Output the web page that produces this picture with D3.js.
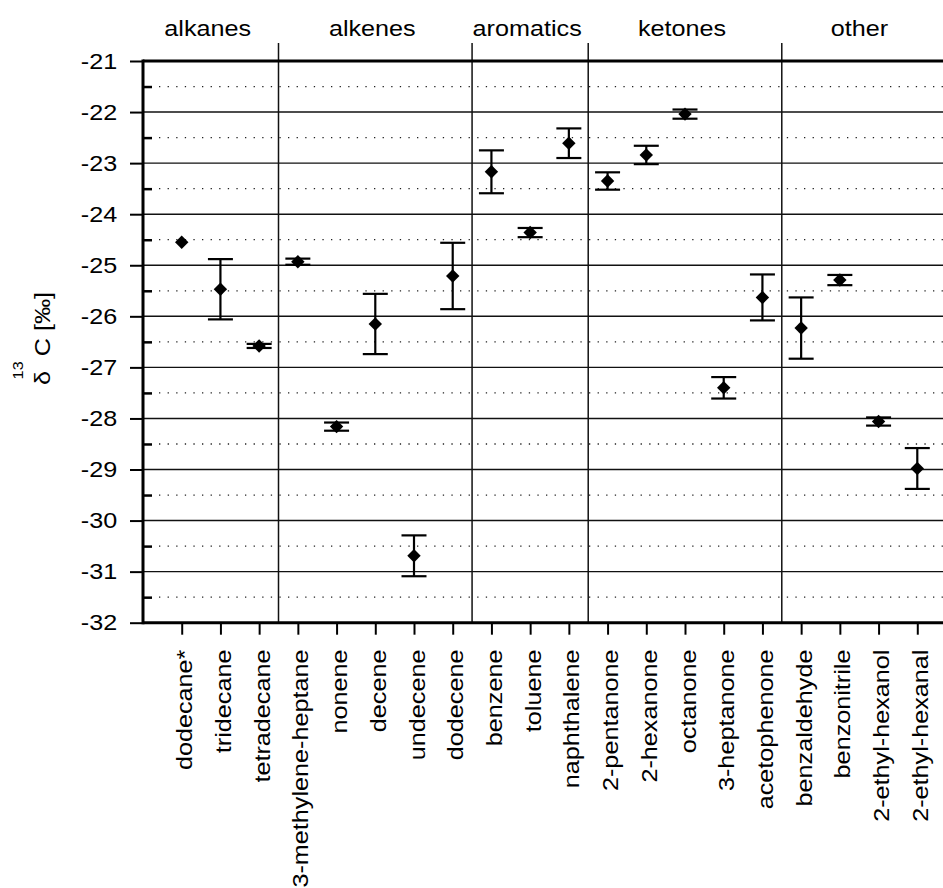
<!DOCTYPE html>
<html>
<head>
<meta charset="utf-8">
<script src="https://cdn.jsdelivr.net/npm/d3@7"></script>
<style>
  body { margin: 0; background: #fff; }
  svg { display: block; font-family: "Liberation Sans", Arial, sans-serif; }
</style>
</head>
<body>
<div id="chart"></div>
<script>
// ---- data ----
const compounds = ['dodecane*', 'tridecane', 'tetradecane', '3-methylene-heptane', 'nonene',
  'decene', 'undecene', 'dodecene', 'benzene', 'toluene', 'naphthalene', '2-pentanone',
  '2-hexanone', 'octanone', '3-heptanone', 'acetophenone', 'benzaldehyde', 'benzonitrile',
  '2-ethyl-hexanol', '2-ethyl-hexanal'];
const groupNames = ['alkanes', 'alkenes', 'aromatics', 'ketones', 'other'];
const groupSizes = [3, 5, 3, 5, 4];
const delta13C = [-24.55, -25.47, -26.58, -24.93, -28.16, -26.15, -30.69, -25.21, -23.17, -24.36,
  -22.61, -23.35, -22.84, -22.04, -27.40, -25.63, -26.23, -25.29, -28.06, -28.98];
const errors = [0, 0.59, 0.04, 0.06, 0.08, 0.59, 0.40, 0.65, 0.42, 0.09,
  0.29, 0.17, 0.18, 0.09, 0.21, 0.45, 0.60, 0.10, 0.08, 0.40];
const yMajor = [-21, -22, -23, -24, -25, -26, -27, -28, -29, -30, -31, -32];
const yMinor = [-21.5, -22.5, -23.5, -24.5, -25.5, -26.5, -27.5, -28.5, -29.5, -30.5, -31.5];

const width = 943;
const height = 888;
const plotLeft = 143, plotRight = 956, plotTop = 61, plotBottom = 622.7;
const stretch = 'scale(1.12,1)';

const points = compounds.map((name, i) => ({ name, value: delta13C[i], err: errors[i] }));

const svg = d3.select('#chart').append('svg')
  .attr('width', width)
  .attr('height', height);

const x = d3.scalePoint().domain(compounds).range([plotLeft, plotRight]).padding(1);
const y = d3.scaleLinear().domain([-32, -21]).range([plotBottom, plotTop]);
const step = x.step();

// group boundaries / spans
let start = 0;
const groups = groupNames.map((g, i) => {
  const first = compounds[start];
  const last = compounds[start + groupSizes[i] - 1];
  start += groupSizes[i];
  return { name: g, x0: x(first) - step / 2, x1: x(last) + step / 2 };
});
groups[0].x0 = plotLeft;
groups[groups.length - 1].x1 = width;

// ----- gridlines -----
svg.append('g')
  .selectAll('line')
  .data(yMinor)
  .join('line')
  .attr('x1', plotLeft + 16)
  .attr('x2', plotRight)
  .attr('y1', (d) => y(d))
  .attr('y2', (d) => y(d))
  .attr('stroke', '#222')
  .attr('stroke-width', 1.3)
  .attr('stroke-dasharray', '1.3,7.3');

svg.append('g')
  .selectAll('line')
  .data(yMajor.slice(1, -1))
  .join('line')
  .attr('x1', plotLeft)
  .attr('x2', plotRight)
  .attr('y1', (d) => y(d))
  .attr('y2', (d) => y(d))
  .attr('stroke', '#111')
  .attr('stroke-width', 1.4);

// group separators
svg.append('g')
  .selectAll('line')
  .data(groups.slice(0, -1))
  .join('line')
  .attr('x1', (d) => d.x1)
  .attr('x2', (d) => d.x1)
  .attr('y1', 43)
  .attr('y2', plotBottom)
  .attr('stroke', '#111')
  .attr('stroke-width', 1.5);

// group labels
svg.append('g')
  .selectAll('text')
  .data(groups)
  .join('text')
  .attr('transform', (d) => `translate(${(d.x0 + d.x1) / 2 - 3},36) ${stretch}`)
  .attr('text-anchor', 'middle')
  .attr('font-size', 22.5)
  .text((d) => d.name);

// ----- axes -----
const yAxis = svg.append('g')
  .attr('transform', `translate(${plotLeft},0)`)
  .call(d3.axisLeft(y).tickValues(yMajor).tickSize(13).tickPadding(10).tickFormat((d) => d));
yAxis.select('.domain').remove();
yAxis.selectAll('line').attr('stroke', '#000').attr('stroke-width', 2);
yAxis.selectAll('text')
  .attr('font-size', 22.5)
  .attr('font-family', null)
  .attr('fill', '#000')
  .attr('transform', stretch);

const yMinorAxis = svg.append('g')
  .attr('transform', `translate(${plotLeft},0)`)
  .call(d3.axisLeft(y).tickValues(yMinor).tickSize(-9).tickFormat(''));
yMinorAxis.select('.domain').remove();
yMinorAxis.selectAll('line').attr('stroke', '#000').attr('stroke-width', 2.5);

const xAxis = svg.append('g')
  .attr('transform', `translate(0,${plotBottom})`)
  .call(d3.axisBottom(x).tickSize(12).tickSizeOuter(0));
xAxis.select('.domain').remove();
xAxis.selectAll('line').attr('stroke', '#000').attr('stroke-width', 2);
xAxis.selectAll('text')
  .attr('font-size', 22.5)
  .attr('font-family', null)
  .attr('fill', '#000')
  .attr('text-anchor', 'end')
  .attr('x', -24)
  .attr('y', 0)
  .attr('dy', '0.45em')
  .attr('transform', `rotate(-90) ${stretch}`);

// frame: left axis, top and bottom lines
svg.append('line')
  .attr('x1', plotLeft).attr('x2', plotLeft)
  .attr('y1', plotTop - 1.5).attr('y2', plotBottom + 1.5)
  .attr('stroke', '#000').attr('stroke-width', 3);
svg.append('line')
  .attr('x1', plotLeft).attr('x2', plotRight)
  .attr('y1', plotTop).attr('y2', plotTop)
  .attr('stroke', '#000').attr('stroke-width', 3);
svg.append('line')
  .attr('x1', plotLeft).attr('x2', plotRight)
  .attr('y1', plotBottom).attr('y2', plotBottom)
  .attr('stroke', '#000').attr('stroke-width', 3);

// y axis title
const title = svg.append('text')
  .attr('transform', `translate(50,385) rotate(-90) ${stretch}`)
  .attr('font-size', 22.5);
title.append('tspan').text('δ');
title.append('tspan').attr('font-size', 14.5).attr('dx', -7.5).attr('dy', -27).text('13');
title.append('tspan').attr('dx', 4.5).attr('dy', 27).text('C [‰]');

// ----- error bars -----
const capHalf = 12.5;
const bars = svg.append('g')
  .selectAll('g')
  .data(points.filter((d) => d.err > 0))
  .join('g')
  .attr('stroke', '#000')
  .attr('stroke-width', 2.2);

bars.append('line')
  .attr('x1', (d) => x(d.name)).attr('x2', (d) => x(d.name))
  .attr('y1', (d) => y(d.value + d.err)).attr('y2', (d) => y(d.value - d.err));
bars.append('line')
  .attr('x1', (d) => x(d.name) - capHalf).attr('x2', (d) => x(d.name) + capHalf)
  .attr('y1', (d) => y(d.value + d.err)).attr('y2', (d) => y(d.value + d.err));
bars.append('line')
  .attr('x1', (d) => x(d.name) - capHalf).attr('x2', (d) => x(d.name) + capHalf)
  .attr('y1', (d) => y(d.value - d.err)).attr('y2', (d) => y(d.value - d.err));

// ----- diamonds -----
svg.append('g')
  .selectAll('path')
  .data(points)
  .join('path')
  .attr('d', d3.symbol(d3.symbolSquare, 90))
  .attr('transform', (d) => `translate(${x(d.name)},${y(d.value)}) rotate(45)`)
  .attr('fill', '#000');
</script>
</body>
</html>
